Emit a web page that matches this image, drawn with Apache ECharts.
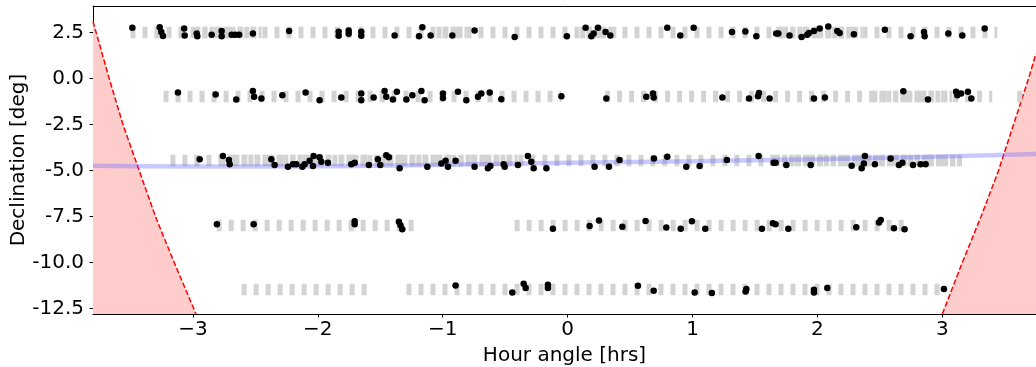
<!DOCTYPE html>
<html>
<head>
<meta charset="utf-8">
<script src="https://cdn.jsdelivr.net/npm/echarts@6.0.0/dist/echarts.min.js"></script>
<style>
  html, body { margin: 0; padding: 0; background: #fff; }
  #chart { width: 1036px; height: 367px; }
</style>
</head>
<body>
<div id="chart"></div>
<script>
// ticks
var xTicks = [-3, -2, -1, 0, 1, 2, 3];
var yTicks = [2.5, 0, -2.5, -5, -7.5, -10, -12.5];

// declination of each observing row
var rowDec = [2.5, -0.97, -4.45, -7.95, -11.45];

// grey coverage per row, [start, end] in hour angle
var sparseSegs = [
  [[-3.50, 3.44]],
  [[-3.235, -0.05], [0.30, 3.40], [3.60, 3.64]],
  [[-3.18, 3.155]],
  [[-2.81, -1.225], [-0.424, 2.72]],
  [[-2.61, -1.585], [-1.29, 3.01]]
];
var denseSegs = [
  [[-2.98, -2.45], [-1.05, -0.81], [0.10, 0.39], [1.67, 2.36]],
  [[2.44, 3.08]],
  [[-2.78, -0.40], [1.66, 3.16]],
  [],
  []
];

// observed points [hour angle, dec]
var row1Dots = [[-3.485,2.77],[-3.266,2.80],[-3.253,2.53],[-3.24,2.32],[-3.07,2.72],[-3.066,2.35],[-2.97,2.45],[-2.965,2.30],[-2.85,2.39],[-2.77,2.59],[-2.77,2.30],[-2.69,2.39],[-2.66,2.39],[-2.63,2.39],[-2.52,2.45],
  [-2.23,2.59],[-1.833,2.55],[-1.833,2.33],[-1.753,2.62],[-1.753,2.44],[-1.652,2.55],[-1.652,2.33],[-1.385,2.35],[-1.163,2.80],[-1.19,2.30],[-1.097,2.35],[-0.923,2.35],[-0.745,2.62],[-0.424,2.26],
  [-0.006,2.30],[0.144,2.77],[0.19,2.30],[0.208,2.45],[0.243,2.77],[0.304,2.53],[0.342,2.35],[0.798,2.77],[0.902,2.35],[1.009,2.77],[1.316,2.53],[1.423,2.57],[1.511,2.30],[1.67,2.45],
  [1.687,2.45],[1.777,2.35],[1.873,2.26],[1.919,2.39],[1.932,2.48],[1.972,2.59],[2.018,2.72],[2.087,2.84],[2.159,2.59],[2.178,2.48],[2.292,2.41],[2.54,2.66],[2.746,2.30],[2.853,2.53],[2.858,2.30],[3.048,2.45],[3.16,2.35],[3.339,2.72]];
var row2Dots = [[-3.12,-0.756],[-2.818,-0.864],[-2.653,-1.135],[-2.52,-0.67],[-2.51,-0.99],[-2.452,-1.08],[-2.284,-0.90],[-2.098,-0.756],[-1.986,-1.17],[-1.812,-1.03],[-1.652,-0.81],[-1.652,-1.17],[-1.553,-1.03],[-1.465,-0.67],[-1.452,-0.99],[-1.399,-1.135],[-1.367,-0.72],[-1.291,-1.135],[-1.243,-0.90],[-1.171,-0.67],[-1.145,-1.17],[-0.998,-0.81],[-0.998,-1.05],[-0.878,-0.72],[-0.811,-1.17],[-0.718,-0.99],[-0.691,-0.81],[-0.624,-0.756],[-0.531,-1.12],
  [-0.05,-0.956],[0.31,-1.08],[0.63,-0.99],[0.683,-0.81],[0.689,-1.03],[1.239,-1.03],[1.452,-1.08],[1.524,-0.956],[1.532,-0.78],[1.617,-1.08],[1.972,-1.08],[2.06,-1.03],[2.688,-0.685],[2.885,-1.135],[3.11,-0.72],[3.12,-0.90],[3.15,-0.81],[3.205,-0.72],[3.232,-1.08]];
var row3Dots = [[-2.946,-4.39],[-2.76,-4.21],[-2.712,-4.43],[-2.706,-4.65],[-2.372,-4.39],[-2.346,-4.70],[-2.239,-4.79],[-2.199,-4.65],[-2.172,-4.65],[-2.124,-4.79],[-2.106,-4.65],[-2.066,-4.47],[-2.034,-4.21],[-2.039,-4.75],[-1.986,-4.28],[-1.972,-4.52],[-1.919,-4.58],[-1.732,-4.65],[-1.705,-4.58],[-1.591,-4.70],[-1.519,-4.39],[-1.50,-4.70],[-1.452,-4.16],[-1.431,-4.28],[-1.345,-4.88],[-1.123,-4.79],[-1.011,-4.61],[-0.977,-4.47],[-0.958,-4.79],[-0.897,-4.47],[-0.745,-4.79],[-0.638,-4.88],[-0.619,-4.75],[-0.512,-4.65],[-0.504,-4.79],[-0.398,-4.70],
  [-0.318,-4.21],[-0.291,-4.52],[-0.272,-4.88],[-0.17,-4.88],[0.216,-4.79],[0.331,-4.79],[0.416,-4.43],[0.691,-4.34],[0.798,-4.25],[0.95,-4.79],[1.057,-4.75],[1.275,-4.43],[1.529,-4.21],[1.649,-4.58],[1.665,-4.58],[1.751,-4.70],[1.946,-4.70],[2.274,-4.74],[2.354,-4.88],[2.372,-4.61],[2.38,-4.21],[2.46,-4.65],[2.586,-4.34],[2.653,-4.70],[2.68,-4.58],[2.765,-4.70],[2.826,-4.65],[2.866,-4.65]];
var row4Dots = [[-2.808,-7.92],[-2.514,-7.92],[-1.705,-7.75],[-1.705,-7.92],[-1.351,-7.78],[-1.338,-7.98],[-1.324,-8.19],[-0.118,-8.17],[0.176,-8.01],[0.251,-7.72],[0.438,-8.05],[0.624,-7.74],[0.79,-8.10],[0.905,-8.17],[0.995,-7.76],[1.102,-8.17],[1.556,-8.17],[1.644,-7.86],[1.665,-7.92],[1.767,-8.17],[2.311,-8.08],[2.493,-7.83],[2.507,-7.69],[2.613,-8.13],[2.698,-8.19]];
var row5Dots = [[-0.897,-11.25],[-0.443,-11.63],[-0.352,-11.16],[-0.336,-11.39],[-0.158,-11.21],[-0.158,-11.39],[0.563,-11.27],[0.689,-11.54],[1.017,-11.63],[1.155,-11.66],[1.425,-11.57],[1.431,-11.44],[1.972,-11.63],[1.972,-11.48],[2.079,-11.39],[3.013,-11.44]];

// blue track
var trackHA = [-3.8, -3, -2, -1, 0, 1, 2, 3, 3.75];
var trackDec = [-4.74, -4.78, -4.77, -4.68, -4.58, -4.49, -4.38, -4.24, -4.10];

// hour angle limits (red)
var limLeftHA = [-3.80, -3.67, -3.56, -3.43, -3.30, -3.15, -2.975];
var limLeftDec = [3.11, 0, -2.5, -5, -7.5, -10, -12.8];
var limRightHA = [3.00, 3.16, 3.31, 3.45, 3.57, 3.69, 3.75];
var limRightDec = [-12.8, -10, -7.5, -5, -2.5, 0, 1.36];

function pairs(xs, ys) {
  return xs.map(function (x, i) { return [x, ys[i]]; });
}
function segData(list) {
  var out = [];
  list.forEach(function (segs, i) {
    segs.forEach(function (s) {
      out.push({ coords: [[s[0], rowDec[i]], [s[1], rowDec[i]]] });
    });
  });
  return out;
}

var font = 'DejaVu Sans';
var myChart = echarts.init(document.getElementById('chart'));

var limitSeries = function (data) {
  return {
    type: 'line',
    data: data,
    symbol: 'none',
    z: 1,
    lineStyle: { color: '#ff0000', width: 1.5, type: [5.5, 2.4] },
    areaStyle: { color: '#ffcccc', opacity: 1, origin: 'start' }
  };
};

myChart.setOption({
  animation: false,
  grid: { left: 93, right: 0, top: 6, bottom: 53, containLabel: false, outerBoundsMode: 'none' },
  xAxis: [{
    type: 'value',
    min: -3.8,
    max: 3.75,
    name: 'Hour angle [hrs]',
    nameLocation: 'middle',
    nameGap: 32,
    nameMoveOverlap: false,
    nameTextStyle: { fontSize: 20, fontFamily: font, color: '#000' },
    axisLine: { onZero: false, lineStyle: { color: '#000', width: 1 } },
    axisTick: { customValues: xTicks, length: 3.5, lineStyle: { color: '#000' } },
    axisLabel: {
      customValues: xTicks,
      margin: 6,
      fontSize: 20,
      fontFamily: font,
      color: '#000',
      formatter: function (v) { return String(v).replace('-', '\u2212'); }
    },
    splitLine: { show: false }
  }, {
    // top spine only
    type: 'value',
    position: 'top',
    min: -3.8,
    max: 3.75,
    axisLine: { show: true, onZero: false, lineStyle: { color: '#000', width: 1 } },
    axisTick: { show: false },
    axisLabel: { show: false },
    splitLine: { show: false }
  }],
  yAxis: {
    type: 'value',
    min: -12.8,
    max: 3.95,
    name: 'Declination [deg]',
    nameLocation: 'middle',
    nameGap: 64,
    nameMoveOverlap: false,
    nameTextStyle: { fontSize: 20, fontFamily: font, color: '#000' },
    axisLine: { show: true, onZero: false, lineStyle: { color: '#000', width: 1 } },
    axisTick: { show: true, customValues: yTicks, length: 3.5, lineStyle: { color: '#000' } },
    axisLabel: {
      customValues: yTicks,
      margin: 9,
      fontSize: 20,
      fontFamily: font,
      color: '#000',
      formatter: function (v) { return v.toFixed(1); }
    },
    splitLine: { show: false }
  },
  series: [
    limitSeries(pairs(limLeftHA, limLeftDec)),
    limitSeries(pairs(limRightHA, limRightDec)),
    {
      type: 'lines',
      coordinateSystem: 'cartesian2d',
      data: segData(sparseSegs),
      silent: true,
      z: 2,
      lineStyle: { color: '#d3d3d3', width: 11.3, type: [5, 7], opacity: 1 }
    },
    {
      type: 'lines',
      coordinateSystem: 'cartesian2d',
      data: segData(denseSegs),
      silent: true,
      z: 2,
      lineStyle: { color: '#d3d3d3', width: 11.3, type: [5, 2], opacity: 1 }
    },
    {
      type: 'line',
      data: pairs(trackHA, trackDec),
      smooth: true,
      symbol: 'none',
      z: 3,
      lineStyle: { color: 'rgba(100,100,255,0.35)', width: 4.5 }
    },
    {
      type: 'scatter',
      data: row1Dots.concat(row2Dots, row3Dots, row4Dots, row5Dots),
      symbolSize: 6.5,
      z: 4,
      itemStyle: { color: '#000', opacity: 1 }
    }
  ]
});
</script>
</body>
</html>
